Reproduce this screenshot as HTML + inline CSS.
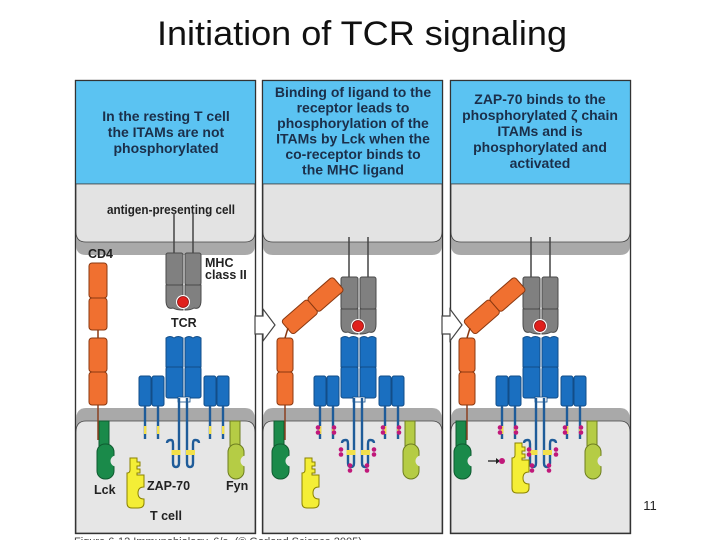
<!DOCTYPE html>
<html><head><meta charset="utf-8"><style>
html,body{margin:0;padding:0;background:#fff;width:720px;height:540px;overflow:hidden}
svg{display:block}
text{font-family:"Liberation Sans",Arial,sans-serif}
</style></head><body>
<svg width="720" height="540" viewBox="0 0 720 540" xmlns="http://www.w3.org/2000/svg">
<defs>
<g id="frame">
  <rect x="0.5" y="0.5" width="180" height="453" fill="#fff" stroke="#333" stroke-width="1.2"/>
  <rect x="1" y="1" width="179" height="103" fill="#5bc3f2"/>
  <line x1="1" y1="104" x2="180" y2="104" stroke="#333" stroke-width="1"/>
  <path d="M1,104 H180 V165 Q180,175 170,175 H11 Q1,175 1,165 Z" fill="#a9a9a9"/>
  <path d="M1,104 H180 V152 Q180,162 170,162 H11 Q1,162 1,152 Z" fill="#e3e3e3" stroke="#444" stroke-width="0.8"/>
  <path d="M1,340 Q1,328 11,328 H170 Q180,328 180,340 V453 H1 Z" fill="#a9a9a9"/>
  <path d="M1,352 Q1,341 11,341 H170 Q180,341 180,352 V453 H1 Z" fill="#e6e6e6" stroke="#444" stroke-width="0.8"/>
  <rect x="0.5" y="0.5" width="180" height="453" fill="none" stroke="#333" stroke-width="1.2"/>
</g>
<g id="core">
  <g fill="#1a6fc0" stroke="#124d88" stroke-width="1">
    <rect x="139" y="376" width="12" height="30" rx="2"/>
    <rect x="152" y="376" width="12" height="30" rx="2"/>
    <rect x="204" y="376" width="12" height="30" rx="2"/>
    <rect x="217" y="376" width="12" height="30" rx="2"/>
    <path d="M166,338 q4,-3 8,0 q4,-3 9,0 V367 H166 Z"/>
    <path d="M185,338 q4,-3 8,0 q4,-3 8,0 V367 H185 Z"/>
    <rect x="166" y="367" width="17" height="31" rx="2"/>
    <rect x="185" y="367" width="16" height="31" rx="2"/>
  </g>
  <rect x="178" y="397" width="12" height="5" fill="#fff" stroke="#124d88" stroke-width="0.8"/>
  <g stroke="#1f5c99" stroke-width="2.4" fill="none">
    <line x1="145" y1="406" x2="145" y2="439"/>
    <line x1="158" y1="406" x2="158" y2="439"/>
    <line x1="210" y1="406" x2="210" y2="439"/>
    <line x1="223" y1="406" x2="223" y2="439"/>
    <path d="M167,443 q0,-3 4,-3 q2,0 2,4 V463 q0,4 3,4 q3,0 3,-4 V398"/>
    <path d="M199,443 q0,-3 -4,-3 q-2,0 -2,4 V463 q0,4 -3,4 q-3,0 -3,-4 V398"/>
  </g>
  <g fill="#f2e04a">
    <rect x="144" y="426" width="2.4" height="8"/><rect x="157" y="426" width="2.4" height="8"/>
    <rect x="209" y="426" width="2.4" height="8"/><rect x="222" y="426" width="2.4" height="8"/>
    <rect x="171.5" y="450" width="9" height="5"/><rect x="186" y="450" width="9" height="5"/>
  </g>
  <rect x="99" y="421" width="10" height="26" fill="#1a8a4a" stroke="#0f5a30"/>
  <rect x="97" y="444" width="17" height="35" rx="8" fill="#1a8a4a" stroke="#0f5a30"/>
  <circle cx="116" cy="461" r="5.5" fill="#e6e6e6"/>
  <rect x="230" y="421" width="10" height="26" fill="#b5cc45" stroke="#6d7d20"/>
  <rect x="228" y="444" width="16" height="35" rx="8" fill="#b5cc45" stroke="#6d7d20"/>
  <circle cx="246" cy="461" r="5.5" fill="#e6e6e6"/>
</g>
<g id="zap">
  <path d="M130,458 h7 v4 h3 v4 h-3 v3 h3 v4 h-3 v2 h7 v12 q-6,0 -6,6 q0,6 6,6 v4 q0,5 -6,5 h-6 q-5,0 -5,-5 v-30 q3,0 3,-3 Z" fill="#f4ee36" stroke="#8a8200" stroke-width="1"/>
</g>
<g id="arrow">
  <path d="M0,-9 H8 V-16 L20,0 L8,16 V9 H0 Z" fill="#fff" stroke="#444" stroke-width="1.2"/>
</g>
<g id="mhc">
  <g stroke="#444" stroke-width="1.5"><line x1="174" y1="-40" x2="174" y2="2"/><line x1="193" y1="-40" x2="193" y2="2"/></g>
  <g fill="#808080" stroke="#4a4a4a" stroke-width="1">
    <rect x="166" y="0" width="17" height="32" rx="2"/>
    <rect x="185" y="0" width="16" height="32" rx="2"/>
    <path d="M166,32 H183 V57 q-7,0 -10,-2 q-7,2 -7,-8 Z"/>
    <path d="M185,32 H201 V47 q0,10 -7,8 q-3,2 -9,2 Z"/>
  </g>
  <circle cx="183" cy="49" r="7" fill="#fff"/>
  <circle cx="183" cy="49" r="5.5" fill="#e0201c" stroke="#8a1010" stroke-width="0.8"/>
</g>
<g id="p" fill="#c0187a"><circle cx="0" cy="-2.5" r="2.3"/><circle cx="0" cy="2.5" r="2.3"/></g>
</defs>

<text x="362" y="45" font-size="34" text-anchor="middle" textLength="410" lengthAdjust="spacingAndGlyphs" fill="#111">Initiation of TCR signaling</text>

<use href="#frame" x="75" y="80"/>
<use href="#frame" x="262" y="80"/>
<use href="#frame" x="450" y="80"/>

<g font-weight="bold" font-size="14" fill="#1b2f4a" text-anchor="middle">
  <text x="166" y="121">In the resting T cell</text>
  <text x="166" y="137">the ITAMs are not</text>
  <text x="166" y="153">phosphorylated</text>
  <text x="353" y="97">Binding of ligand to the</text>
  <text x="353" y="112.5">receptor leads to</text>
  <text x="353" y="128">phosphorylation of the</text>
  <text x="353" y="143.5">ITAMs by Lck when the</text>
  <text x="353" y="159">co-receptor binds to</text>
  <text x="353" y="174.5">the MHC ligand</text>
  <text x="540" y="104">ZAP-70 binds to the</text>
  <text x="540" y="120">phosphorylated ζ chain</text>
  <text x="540" y="136">ITAMs and is</text>
  <text x="540" y="152">phosphorylated and</text>
  <text x="540" y="168">activated</text>
</g>
<text x="107" y="214" font-size="12.5" font-weight="bold" fill="#222" textLength="128" lengthAdjust="spacingAndGlyphs">antigen-presenting cell</text>

<use href="#core"/>
<use href="#zap"/>
<use href="#mhc" x="0" y="253"/>
<g fill="#f07030" stroke="#8a3810" stroke-width="1">
  <rect x="89" y="263" width="18" height="35" rx="3"/>
  <rect x="89" y="298" width="18" height="32" rx="3"/>
  <rect x="89" y="338" width="18" height="34" rx="3"/>
  <rect x="89" y="372" width="18" height="33" rx="3"/>
</g>
<line x1="98" y1="330" x2="98" y2="338" stroke="#8a3810" stroke-width="1.5"/>
<line x1="98" y1="405" x2="98" y2="440" stroke="#8a4020" stroke-width="1.5"/>
<g font-weight="bold" font-size="12.5" fill="#222">
  <text x="88" y="258">CD4</text>
  <text x="205" y="267">MHC</text>
  <text x="205" y="279">class II</text>
  <text x="171" y="327">TCR</text>
  <text x="94" y="494">Lck</text>
  <text x="147" y="490">ZAP-70</text>
  <text x="226" y="490">Fyn</text>
  <text x="150" y="520">T cell</text>
</g>

<use href="#arrow" x="255" y="325"/>
<use href="#arrow" x="442" y="325"/>

<use href="#core" x="175"/>
<use href="#zap" x="175"/>
<use href="#mhc" x="175" y="277"/>
<g fill="#f07030" stroke="#8a3810" stroke-width="1">
  <rect x="277" y="338" width="16" height="34" rx="3"/>
  <rect x="277" y="372" width="16" height="33" rx="3"/>
  <g transform="translate(287,328) rotate(-41)">
    <rect x="0" y="-9" width="34" height="18" rx="3"/>
    <rect x="34" y="-9" width="34" height="18" rx="3"/>
  </g>
</g>
<line x1="285" y1="338" x2="288" y2="328" stroke="#8a3810" stroke-width="1.5"/>
<line x1="285" y1="405" x2="285" y2="440" stroke="#8a4020" stroke-width="1.5"/>
<g>
  <use href="#p" x="318" y="430"/><use href="#p" x="334" y="430"/>
  <use href="#p" x="383" y="430"/><use href="#p" x="399" y="430"/>
  <use href="#p" x="341" y="452"/><use href="#p" x="374" y="452"/>
  <use href="#p" x="350" y="468"/><use href="#p" x="367" y="468"/>
</g>

<use href="#core" x="357"/>
<use href="#mhc" x="357" y="277"/>
<g fill="#f07030" stroke="#8a3810" stroke-width="1">
  <rect x="459" y="338" width="16" height="34" rx="3"/>
  <rect x="459" y="372" width="16" height="33" rx="3"/>
  <g transform="translate(469,328) rotate(-41)">
    <rect x="0" y="-9" width="34" height="18" rx="3"/>
    <rect x="34" y="-9" width="34" height="18" rx="3"/>
  </g>
</g>
<line x1="467" y1="338" x2="470" y2="328" stroke="#8a3810" stroke-width="1.5"/>
<line x1="467" y1="405" x2="467" y2="440" stroke="#8a4020" stroke-width="1.5"/>
<use href="#zap" x="385" y="-15"/>
<line x1="488" y1="461" x2="496" y2="461" stroke="#222" stroke-width="1.3"/>
<path d="M496,458 l4,3 l-4,3 z" fill="#222"/>
<circle cx="502" cy="461" r="3" fill="#c0187a"/>
<g>
  <use href="#p" x="500" y="430"/><use href="#p" x="516" y="430"/>
  <use href="#p" x="565" y="430"/><use href="#p" x="581" y="430"/>
  <use href="#p" x="529" y="452"/><use href="#p" x="556" y="452"/>
  <use href="#p" x="532" y="468"/><use href="#p" x="549" y="468"/>
</g>

<text x="650" y="510" font-size="13" text-anchor="middle" fill="#222">11</text>
<text x="74" y="545" font-size="11" fill="#444">Figure 6-12  Immunobiology, 6/e. (© Garland Science 2005)</text>
</svg>
</body></html>
